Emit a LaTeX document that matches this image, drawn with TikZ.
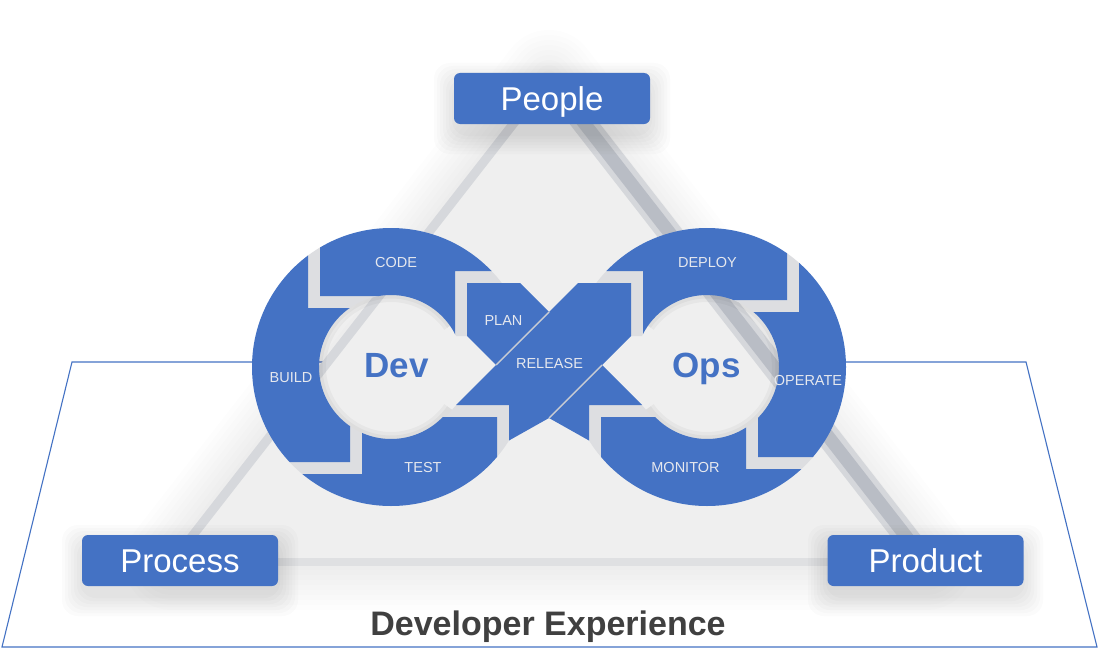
\documentclass[tikz,border=0pt]{standalone}
\usepackage{fontspec}
\setmainfont{Liberation Sans}
\definecolor{dblue}{HTML}{4472C4}
\definecolor{trifill}{HTML}{EFEFEF}
\definecolor{segtext}{HTML}{E6E8EE}
\definecolor{darktext}{HTML}{404040}
\definecolor{edgeL}{HTML}{D6D8DC}
\definecolor{edgeR}{HTML}{B9BDC5}
\definecolor{edgeRsoft}{HTML}{D5D7DB}
\definecolor{edgeB}{HTML}{DFE0E2}
\definecolor{crossline}{HTML}{C9CCD3}
\definecolor{gapgray}{HTML}{DDDEE1}
\begin{document}
\begin{tikzpicture}[x=1pt,y=-1pt,
  seg/.style={fill=dblue},
  gap/.style={fill=gapgray},
  seglabel/.style={text=segtext, font=\fontsize{14.5}{14.5}\selectfont, inner sep=0pt, anchor=base},
  cornerbox/.style={fill=dblue, rounded corners=6pt, text=white, font=\fontsize{33}{33}\selectfont, minimum width=196pt, minimum height=51pt, inner sep=0pt, text height=24pt, text depth=0pt},
  bigword/.style={text=dblue, font=\fontsize{35}{35}\selectfont\bfseries, inner sep=0pt, anchor=base},
  frameline/.style={draw=dblue, line width=1.1pt},
  softshadow/.style={fill=black, opacity=#1, rounded corners=16pt},
  trishadow/.style={draw=black, opacity=#1, line join=round},
  rim/.style={draw=black, opacity=#1},
  crossedge/.style={draw=crossline, line width=1.4pt}
]
\useasboundingbox (0,0) rectangle (1100,669);
\fill[white] (0,0) rectangle (1100,669);

% Developer Experience frame
\draw[frameline] (72,362) -- (1026,362) -- (1097,647) -- (2,647) -- cycle;

% triangle
\coordinate (ta) at (549,78);
\coordinate (tl) at (172,562);
\coordinate (tr) at (926,562);
\foreach \w in {96,86,...,16}{
  \draw[trishadow=0.008, line width=\w pt] (ta) -- (tl) -- (tr) -- cycle;
}
\fill[trifill] (ta) -- (tl) -- (tr) -- cycle;
\begin{scope}
\clip (0,80) rectangle (1100,669);
\draw[edgeB, line width=8pt] (tl) -- (tr);
\draw[edgeL, line width=9pt] (ta) -- (tl);
\draw[edgeRsoft, line width=24pt] (ta) -- (tr);
\draw[edgeR, line width=13pt] (ta) -- (tr);
\end{scope}

% box shadows
\foreach \e in {2,5,...,20}{
  \fill[softshadow=0.014] (454-\e,73-\e+10) rectangle (650+\e,124+\e+10);
  \fill[softshadow=0.014] (82-\e,535-\e+10) rectangle (278+\e,586+\e+10);
  \fill[softshadow=0.014] (828-\e,535-\e+10) rectangle (1023+\e,586+\e+10);
}

% hole rims
\draw[rim=0.035, line width=14pt] (450,408.3) arc[start angle=35,end angle=325,radius=72];
\draw[rim=0.035, line width=7pt] (450,408.3) arc[start angle=35,end angle=325,radius=72];
\draw[rim=0.035, line width=14pt] (648,325.7) arc[start angle=-145,end angle=145,radius=72];
\draw[rim=0.035, line width=7pt] (648,325.7) arc[start angle=-145,end angle=145,radius=72];

% left ring
\begin{scope}
\clip (530,367) arc[start angle=0,end angle=360,radius=139] -- cycle
      (463,367) arc[start angle=0,end angle=-360,radius=72] -- cycle;
\fill[gap] (307,150) -- (321,150) -- (321,295) -- (400,295) -- (400,309) -- (307,309) -- cycle;
\fill[gap] (349,400) -- (363,400) -- (363,475) -- (200,475) -- (200,461) -- (349,461) -- cycle;
\fill[gap] (510,404) -- (510,600) -- (496,600) -- (496,418) -- (445,418) -- (457,404) -- cycle;
\fill[gap] (454,270) -- (540,270) -- (540,284) -- (468,284) -- (468,336) -- (454,336) -- cycle;
\fill[seg] (455,271) -- (620,271) -- (620,150) -- (320,150) -- (320,296) -- (379,296) -- (391,305) -- (455,340) -- cycle;
\fill[seg] (308,308) -- (308,150) -- (150,150) -- (150,462) -- (350,462) -- (350,415) -- (391,367) -- (391,308) -- cycle;
\fill[seg] (362,474) -- (150,474) -- (150,620) -- (497,620) -- (497,417) -- (440,417) -- (391,367) -- (362,425) -- cycle;
\end{scope}

% right ring
\begin{scope}
\clip (846,367) arc[start angle=0,end angle=360,radius=139] -- cycle
      (779,367) arc[start angle=0,end angle=-360,radius=72] -- cycle;
\fill[gap] (644,270) -- (644,336) -- (630,336) -- (630,284) -- (556,284) -- (556,270) -- cycle;
\fill[gap] (786,150) -- (800,150) -- (800,313) -- (700,313) -- (700,299) -- (786,299) -- cycle;
\fill[gap] (745,400) -- (759,400) -- (759,456) -- (900,456) -- (900,470) -- (745,470) -- cycle;
\fill[gap] (588,404) -- (641,404) -- (653,418) -- (602,418) -- (602,600) -- (588,600) -- cycle;
\fill[seg] (643,271) -- (480,271) -- (480,150) -- (787,150) -- (787,300) -- (707,300) -- (643,345) -- cycle;
\fill[seg] (799,312) -- (799,150) -- (950,150) -- (950,457) -- (758,457) -- (758,410) -- (707,367) -- (707,312) -- cycle;
\fill[seg] (746,469) -- (950,469) -- (950,620) -- (601,620) -- (601,417) -- (660,417) -- (707,367) -- (746,420) -- cycle;
\end{scope}

% band B (under) : MONITOR -> PLAN
\fill[seg] (642,405) -- (589,405) -- (589,440.5) -- (549,418) -- (467,336) -- (467,283) -- (520,283) -- cycle;
% band A (over) : TEST -> RELEASE -> DEPLOY
\fill[seg] (456,405) -- (509,405) -- (509,440.5) -- (549,418) -- (631,336) -- (631,283) -- (578,283) -- cycle;
\coordinate (devtip) at (496,365);
\coordinate (vtop) at (549,312);
\coordinate (vbot) at (549,418);
\coordinate (opstip) at (602,365);
\draw[crossedge] (devtip) -- (vtop);
\draw[crossedge] (vbot) -- (opstip);

% segment labels
\node[seglabel] (code) at (396,267.2) {CODE};
\node[seglabel] (build) at (291,382.2) {BUILD};
\node[seglabel] (test) at (423,472.2) {TEST};
\node[seglabel] (plan) at (503.5,325.2) {PLAN};
\node[seglabel] (release) at (549.5,368.2) {RELEASE};
\node[seglabel] (deploy) at (707.5,267.2) {DEPLOY};
\node[seglabel] (operate) at (808,385.2) {OPERATE};
\node[seglabel] (monitor) at (685.5,472.2) {MONITOR};

\node[bigword] (dev) at (396.5,377) {Dev};
\node[bigword] (ops) at (706.5,377) {Ops};

% corner boxes
\node[cornerbox] (people) at (552,98.5) {People};
\node[cornerbox] (process) at (180,560.5) {Process};
\node[cornerbox] (product) at (925.5,560.5) {Product};

\node[text=darktext, font=\fontsize{34}{34}\selectfont\bfseries, anchor=base, inner sep=0pt] (devx) at (548,635) {Developer Experience};
\end{tikzpicture}
\end{document}
